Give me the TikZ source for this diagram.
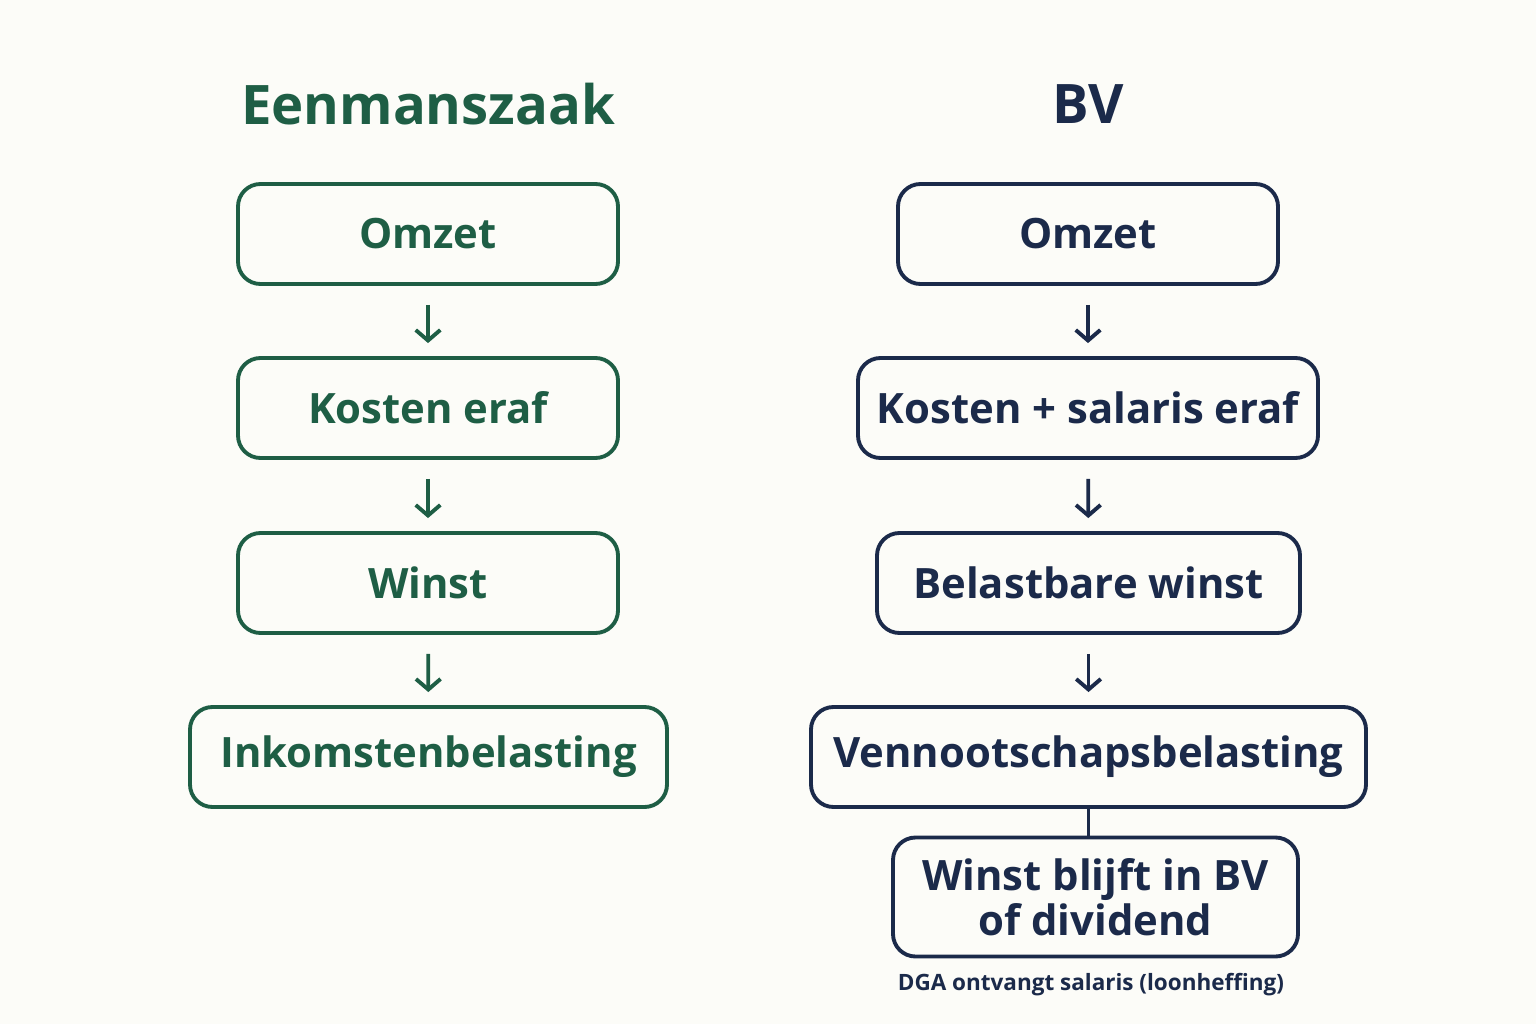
\documentclass[tikz,border=0pt]{standalone}
\usepackage{fontspec}
\setmainfont{Open Sans}
\usetikzlibrary{arrows.meta}
\definecolor{eenGreen}{HTML}{1E5E45}
\definecolor{bvNavy}{HTML}{1B2A4A}
\definecolor{paper}{HTML}{FCFCF8}

\begin{document}
\begin{tikzpicture}[
    line width = 2.2pt,
    %
    stap/.style = {draw, rounded corners = 0.45cm,
      font = \fontsize{23.8}{26}\selectfont\bfseries,
      minimum height = 2cm, inner sep = 0pt},
    titel/.style = {font = \fontsize{31}{34}\selectfont\bfseries},
    pijl/.style = {-{Straight Barb[length=6pt, width=14pt]},
      shorten <= 0.38cm, shorten >= 0.26cm},
    %
    een/.style = {eenGreen},
    bv/.style = {bvNavy},
    ]

    \fill [paper] (0, 0) rectangle (30.72, 20.48);

    \node at (8.56, 18.4) [titel, een, name = T_e] {Eenmanszaak};
    \node at (21.76, 18.4) [titel, bv, name = T_b] {BV};

    \node at (8.56, 15.8)
    [stap, een, minimum width = 7.6cm, name = E_omzet] {Omzet};
    \node at (8.56, 12.32)
    [stap, een, minimum width = 7.6cm, name = E_kosten] {Kosten eraf};
    \node at (8.56, 8.82)
    [stap, een, minimum width = 7.6cm, name = E_winst] {Winst};
    \node at (8.57, 5.34)
    [stap, een, minimum width = 9.54cm, name = E_ib] {Inkomstenbelasting};

    \node at (21.76, 15.8)
    [stap, bv, minimum width = 7.6cm, name = B_omzet] {Omzet};
    \node at (21.76, 12.32)
    [stap, bv, minimum width = 9.2cm, name = B_kosten] {Kosten + salaris eraf};
    \node at (21.77, 8.82)
    [stap, bv, minimum width = 8.46cm, name = B_winst] {Belastbare winst};
    \node at (21.77, 5.34)
    [stap, bv, minimum width = 11.1cm, name = B_vpb] {Vennootschapsbelasting};
    \node at (21.91, 2.54)
    [stap, bv, minimum width = 8.1cm, minimum height = 2.38cm,
      align = center, font = \fontsize{23.8}{25.5}\selectfont\bfseries,
      name = B_rest] {Winst blijft in BV\\of dividend};

    \node at (21.82, 0.78)
    [bv, font = \fontsize{12.8}{15}\selectfont\bfseries, name = B_dga]
    {DGA ontvangt salaris (loonheffing)};

    \draw [pijl, een] (E_omzet) to (E_kosten);
    \draw [pijl, een] (E_kosten) to (E_winst);
    \draw [pijl, een] (E_winst) to (E_ib);

    \draw [pijl, bv] (B_omzet) to (B_kosten);
    \draw [pijl, bv] (B_kosten) to (B_winst);
    \draw [pijl, bv] (B_winst.south -| B_vpb) to (B_vpb);
    \draw [bv] (B_vpb.south) to (B_vpb.south |- B_rest.north);

  \end{tikzpicture}
\end{document}
